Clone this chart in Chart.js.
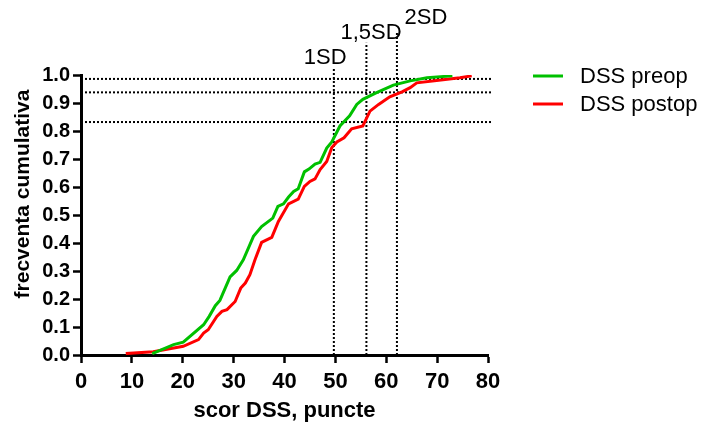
<!DOCTYPE html>
<html>
<head>
<meta charset="utf-8">
<script src="https://cdn.jsdelivr.net/npm/chart.js@4.4.1/dist/chart.umd.min.js"></script>
<style>
    body { margin: 0; background: #fff; }
    #wrap { width: 704px; height: 426px; }
</style>
</head>
<body>
<div id="wrap"><canvas id="cdfChart" width="704" height="426"></canvas></div>
<script>
// Distributie cumulativa scor DSS
const preopX  = [14.0, 18.2, 20.1, 24.1, 25.2, 26.4, 27.3, 29.3, 30.6, 31.9, 32.9, 33.9, 35.5, 37.7, 38.7, 39.8, 40.8, 41.8, 42.7, 43.9, 44.8, 46.0, 47.0, 48.3, 49.3, 50.9, 52.8, 54.2, 55.4, 58.1, 61.4, 64.7, 68.0, 73.0];
const preopY  = [0.005, 0.037, 0.046, 0.108, 0.138, 0.176, 0.195, 0.279, 0.302, 0.340, 0.382, 0.424, 0.459, 0.489, 0.531, 0.540, 0.564, 0.584, 0.594, 0.654, 0.664, 0.682, 0.688, 0.739, 0.761, 0.818, 0.854, 0.895, 0.913, 0.937, 0.964, 0.979, 0.990, 0.997];
const postopX = [8.8, 14.2, 20.1, 23.1, 24.1, 25.0, 26.7, 27.7, 28.7, 30.3, 31.4, 32.3, 33.2, 34.2, 35.5, 37.5, 38.8, 40.8, 42.7, 43.9, 45.0, 46.0, 47.0, 48.3, 49.3, 50.3, 51.7, 53.2, 55.4, 56.8, 58.5, 60.7, 63.1, 64.7, 66.0, 69.9, 74.5, 76.8];
const postopY = [0.005, 0.012, 0.031, 0.055, 0.078, 0.090, 0.138, 0.156, 0.162, 0.191, 0.239, 0.257, 0.287, 0.340, 0.402, 0.420, 0.477, 0.540, 0.557, 0.602, 0.620, 0.629, 0.662, 0.691, 0.741, 0.761, 0.776, 0.808, 0.818, 0.871, 0.895, 0.922, 0.940, 0.955, 0.972, 0.980, 0.990, 0.997];

// linii de referinta (SD)
const sdLabels = ['1SD', '1,5SD', '2SD'];
const sdX      = [49.7, 56.1, 62.1];
const sdTop    = [1.026, 1.115, 1.155];
const sdLabelX = [48.0, 57.0, 67.8];
const sdLabelY = [1.06, 1.15, 1.204];
const refY     = [0.986, 0.938, 0.832];
const refXEnd  = 80.8;

const seriesNames  = ['DSS preop', 'DSS postop'];
const seriesColors = ['#00c000', '#ff0000'];

const FONT = "'Liberation Sans', Arial, sans-serif";

function toPoints(xs, ys) {
    return xs.map((x, i) => ({ x: x, y: ys[i] }));
}

function dottedLine(points) {
    return {
        data: points,
        borderColor: '#000',
        borderWidth: 2,
        borderDash: [2, 2],
        pointRadius: 0,
        clip: false,
        order: 5
    };
}

const datasets = [
    {
        label: seriesNames[0],
        data: toPoints(preopX, preopY),
        borderColor: seriesColors[0],
        borderWidth: 3,
        pointRadius: 0,
        tension: 0,
        order: 1
    },
    {
        label: seriesNames[1],
        data: toPoints(postopX, postopY),
        borderColor: seriesColors[1],
        borderWidth: 3,
        pointRadius: 0,
        tension: 0,
        order: 2
    }
];

sdX.forEach((x, i) => {
    datasets.push(dottedLine([{ x: x, y: 0 }, { x: x, y: sdTop[i] }]));
});
refY.forEach(y => {
    datasets.push(dottedLine([{ x: 0, y: y }, { x: refXEnd, y: y }]));
});

// Texte: etichete SD, legenda, titluri axe
const extrasPlugin = {
    id: 'extras',
    afterDraw(chart) {
        const ctx = chart.ctx;
        const xs = chart.scales.x;
        const ys = chart.scales.y;
        ctx.save();
        ctx.fillStyle = '#000';

        // etichete SD
        ctx.font = `22px ${FONT}`;
        ctx.textAlign = 'center';
        ctx.textBaseline = 'middle';
        sdLabels.forEach((t, i) => {
            ctx.fillText(t, xs.getPixelForValue(sdLabelX[i]), ys.getPixelForValue(sdLabelY[i]));
        });

        // legenda
        seriesNames.forEach((name, i) => {
            const y = 76 + i * 28;
            ctx.strokeStyle = seriesColors[i];
            ctx.lineWidth = 3;
            ctx.beginPath();
            ctx.moveTo(533, y);
            ctx.lineTo(563, y);
            ctx.stroke();
            ctx.fillStyle = '#000';
            ctx.textAlign = 'left';
            ctx.fillText(name, 580, y + 1);
        });

        // titlu axa X
        ctx.font = `bold 22px ${FONT}`;
        ctx.textAlign = 'center';
        ctx.fillText('scor DSS, puncte', (chart.chartArea.left + chart.chartArea.right) / 2, 411);

        // titlu axa Y
        ctx.translate(23, 194);
        ctx.rotate(-Math.PI / 2);
        ctx.font = `bold 21px ${FONT}`;
        ctx.fillText('frecventa cumulativa', 0, 0);
        ctx.restore();
    }
};

const axisCommon = {
    grid: {
        drawOnChartArea: false,
        drawTicks: true,
        tickLength: 8,
        tickWidth: 2.5,
        tickColor: '#000'
    },
    border: { display: true, width: 3, color: '#000' }
};

new Chart(document.getElementById('cdfChart').getContext('2d'), {
    type: 'line',
    data: { datasets: datasets },
    options: {
        responsive: false,
        animation: false,
        layout: { padding: { left: 0, right: 216, top: 75, bottom: 0 } },
        plugins: {
            legend: { display: false },
            tooltip: { enabled: false }
        },
        scales: {
            x: {
                type: 'linear',
                min: 0,
                max: 80,
                afterFit: s => { s.height = 71; },
                ticks: {
                    stepSize: 10,
                    color: '#000',
                    padding: 6,
                    font: { family: FONT, size: 22, weight: 'bold' }
                },
                ...axisCommon
            },
            y: {
                min: 0,
                max: 1,
                afterFit: s => { s.width = 81; },
                ticks: {
                    stepSize: 0.1,
                    color: '#000',
                    padding: 3,
                    font: { family: FONT, size: 20, weight: 'bold' },
                    callback: v => v.toFixed(1)
                },
                ...axisCommon
            }
        }
    },
    plugins: [extrasPlugin]
});
</script>
</body>
</html>
